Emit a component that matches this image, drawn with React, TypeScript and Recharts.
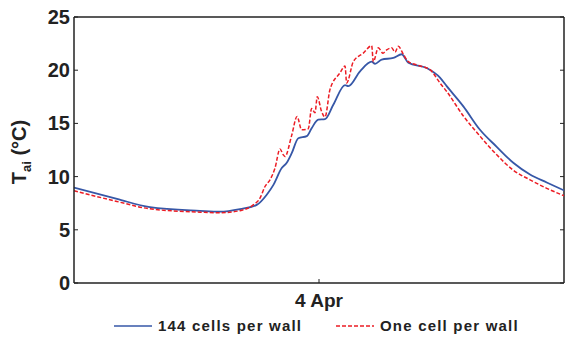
import React from 'react';
import { LineChart, Line, XAxis, YAxis, ReferenceLine } from 'recharts';

// time in hours from the left edge of the plot, temperature in °C
const blueTime = [0, 4.21, 7.44, 12.34, 14.3, 16.26, 17.9, 18.88, 19.52, 20.35, 20.84, 21.33, 21.97, 22.8, 23.28, 23.93, 24.59, 25.4, 26.55, 26.87, 28.02, 29.16, 29.49, 30.14, 31.28, 32.1, 32.75, 34.55, 35.85, 36.51, 38.14, 39.77, 41.41, 43.03, 44.67, 46.31, 48];
const blueTemp = [8.96, 7.9, 7.13, 6.78, 6.7, 6.94, 7.34, 8.3, 9.2, 10.8, 11.3, 12.2, 13.6, 13.8, 14.55, 15.35, 15.4, 16.75, 18.6, 18.5, 19.9, 20.8, 20.6, 21.0, 21.15, 21.5, 20.7, 20.2, 19.3, 18.5, 16.6, 14.4, 12.8, 11.3, 10.2, 9.45, 8.7];

const redTime = [0, 4.21, 7.44, 12.34, 14.3, 16.26, 17.56, 18.22, 18.71, 19.2, 19.69, 20.18, 20.5, 20.67, 21.33, 21.85, 22.3, 22.95, 23.28, 23.61, 23.83, 24.26, 24.59, 25.08, 26.06, 26.55, 26.71, 27.36, 28.34, 29.16, 29.32, 29.81, 30.27, 30.63, 31.12, 31.45, 31.77, 32.26, 32.75, 33.57, 34.87, 35.85, 36.51, 38.14, 39.77, 41.41, 43.03, 44.67, 46.31, 48];
const redTemp = [8.68, 7.66, 6.97, 6.66, 6.6, 6.8, 7.34, 7.97, 9.07, 9.7, 10.8, 12.6, 12.05, 11.9, 13.9, 15.65, 14.4, 14.5, 16.4, 16.0, 17.5, 16.1, 15.6, 18.2, 19.75, 20.4, 18.8, 20.8, 21.6, 22.3, 20.8, 22.1, 21.6, 21.9, 22.1, 21.7, 22.25, 21.5, 20.8, 20.5, 20.05, 18.8, 18.0, 15.7, 13.8, 12.05, 10.6, 9.7, 8.9, 8.2];

const yTicks = [0, 5, 10, 15, 20, 25];
const xTicks = [24];
const xTickLabels = ['4 Apr'];

const seriesNames = ['144 cells per wall', 'One cell per wall'];

const BLUE = '#3657a7';
const RED = '#ec1c24';
const AXIS = '#222';
const FONT = '"Liberation Sans", Arial, sans-serif';
const PLOT_RIGHT = 564;

const blueData = blueTime.map((t, i) => ({ t, v: blueTemp[i] }));
const redData = redTime.map((t, i) => ({ t, v: redTemp[i] }));

const YTick = ({ x, y, payload }: any) => (
  <g>
    <text x={x} y={y} textAnchor="end" dominantBaseline="central" fontSize={20} fontWeight="bold" fill="#222" fontFamily={FONT}>
      {payload.value}
    </text>
    <line x1={x + 4} x2={x + 8} y1={y} y2={y} stroke={AXIS} />
    <line x1={PLOT_RIGHT - 4} x2={PLOT_RIGHT} y1={y} y2={y} stroke={AXIS} />
  </g>
);

const XTick = ({ x, y, payload, index }: any) => (
  <g>
    <line x1={x} x2={x} y1={y - 4} y2={y - 8} stroke={AXIS} />
    <text x={x} y={y + 13} textAnchor="middle" dominantBaseline="central" fontSize={19} fontWeight="bold" fill="#222" fontFamily={FONT}>
      {xTickLabels[index] ?? payload.value}
    </text>
  </g>
);

const YLabel = () => (
  <text x={26} y={152} transform="rotate(-90, 26, 152)" textAnchor="middle" fontSize={20} fontWeight="bold" fill="#222" fontFamily={FONT}>
    T<tspan fontSize={13} dy={5}>ai</tspan><tspan dy={-5}> (°C)</tspan>
  </text>
);

const legendText: React.CSSProperties = {
  fontFamily: FONT,
  fontSize: 15,
  fontWeight: 'bold',
  letterSpacing: 1.2,
  color: '#222',
  position: 'absolute',
  top: 316,
  lineHeight: '19px',
};

export default function App() {
  return (
    <div style={{ position: 'absolute', left: 0, top: 0, width: 565, height: 338, background: '#fff' }}>
      <LineChart width={565} height={338} margin={{ top: 17, right: 1, left: 0, bottom: 25 }}>
        <XAxis
          type="number"
          dataKey="t"
          domain={[0, 48]}
          ticks={xTicks}
          tick={<XTick />}
          tickLine={false}
          tickSize={0}
          tickMargin={4}
          height={30}
          allowDataOverflow
          axisLine={{ stroke: AXIS, strokeWidth: 1.5 }}
        />
        <YAxis
          type="number"
          domain={[0, 25]}
          ticks={yTicks}
          tick={<YTick />}
          tickLine={false}
          tickSize={0}
          tickMargin={4}
          width={74}
          allowDataOverflow
          axisLine={{ stroke: AXIS, strokeWidth: 1.5 }}
          label={<YLabel />}
        />
        <ReferenceLine y={25} stroke={AXIS} strokeWidth={1.5} />
        <ReferenceLine x={48} stroke={AXIS} strokeWidth={1.5} />
        <Line data={blueData} dataKey="v" type="monotone" stroke={BLUE} strokeWidth={1.8} dot={false} isAnimationActive={false} name={seriesNames[0]} />
        <Line data={redData} dataKey="v" type="monotone" stroke={RED} strokeWidth={1.5} strokeDasharray="4 2" dot={false} isAnimationActive={false} name={seriesNames[1]} />
      </LineChart>
      <svg style={{ position: 'absolute', left: 0, top: 0 }} width={565} height={338} pointerEvents="none">
        <line x1={114} x2={152} y1={326} y2={326} stroke={BLUE} strokeWidth={1.5} />
        <line x1={336} x2={374} y1={326} y2={326} stroke={RED} strokeWidth={1.5} strokeDasharray="4 2" />
      </svg>
      <div style={{ ...legendText, left: 158 }}>{seriesNames[0]}</div>
      <div style={{ ...legendText, left: 380 }}>{seriesNames[1]}</div>
    </div>
  );
}
